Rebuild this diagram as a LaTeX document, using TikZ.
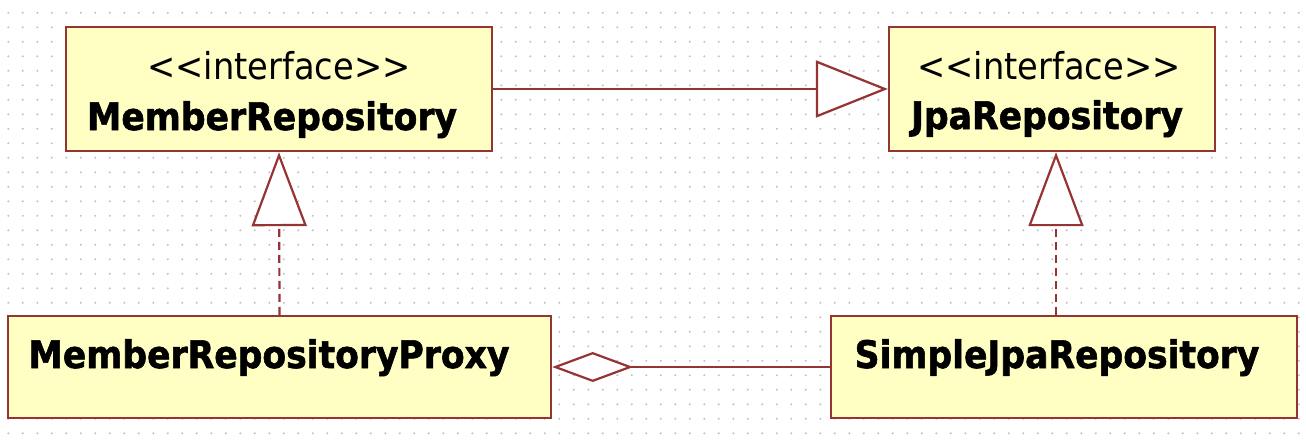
\documentclass[tikz,border=0pt]{standalone}
\usepackage{fontspec}
\setmainfont{DejaVu Sans}
\newfontfamily\boxfont[FakeStretch=0.91]{DejaVu Sans}
\newfontfamily\namefont[FakeStretch=0.91, FakeBold=1.5]{DejaVu Sans Bold}
\usetikzlibrary{arrows.meta}
\definecolor{umlfill}{RGB}{255,255,196}
\definecolor{umlline}{RGB}{150,52,52}
\definecolor{griddot}{RGB}{190,190,190}
\tikzset{
  umlbox/.style={draw=umlline, fill=umlfill, line width=2.4pt, inner sep=0pt},
  stereo/.style={anchor=base, inner sep=0pt, font=\boxfont\fontsize{37}{40}\selectfont},
  cname/.style={anchor=base, inner sep=0pt, font=\namefont\fontsize{38}{42}\selectfont},
  conn/.style={draw=umlline, line width=2.2pt},
  gen/.style={conn, -{Triangle[open, fill=white, length=72pt, width=57pt, line width=2.2pt]}},
  real/.style={conn, dash pattern=on 8pt off 5pt, -{Triangle[open, fill=white, length=74pt, width=55pt, line width=2.2pt]}},
  agg/.style={conn, {Diamond[open, fill=white, length=81pt, width=30pt, line width=2.2pt]}-}
}
\begin{document}
\begin{tikzpicture}[x=1pt, y=-1pt]
\useasboundingbox (0,0) rectangle (1306,440);
\fill[white] (0,0) rectangle (1306,440);
% dotted grid
\foreach \i in {0,...,89} {
  \foreach \j in {0,...,29} {
    \fill[griddot] ({8.3+14.5*\i},{12.8+14.5*\j}) circle (1.1pt);
  }
}
% boxes
\node[umlbox, minimum width=426pt, minimum height=124pt] (mr) at (279,89) {};
\node[umlbox, minimum width=326pt, minimum height=124pt] (jr) at (1052,89) {};
\node[umlbox, minimum width=543pt, minimum height=102pt] (mrp) at (279.5,367) {};
\node[umlbox, minimum width=466pt, minimum height=102pt] (sjr) at (1064,367) {};
% texts
\node[stereo] (mrs) at (279,79) {<<interface>>};
\node[cname] (mrn) at (272,130) {MemberRepository};
\node[stereo] (jrs) at (1049,79) {<<interface>>};
\node[cname] (jrn) at (1047,129) {JpaRepository};
\node[cname] (mrpn) at (269,368) {MemberRepositoryProxy};
\node[cname] (sjrn) at (1057,368) {SimpleJpaRepository};
% connectors
\draw[gen] (mr.east) -- (jr.west);
\coordinate (sjrtop) at ([xshift=-8pt]sjr.north);
\draw[real] (sjrtop) -- (sjrtop |- jr.south);
\draw[real] (mrp.north) -- (mr.south);
\draw[agg] (mrp.east) -- (sjr.west);
\end{tikzpicture}
\end{document}
